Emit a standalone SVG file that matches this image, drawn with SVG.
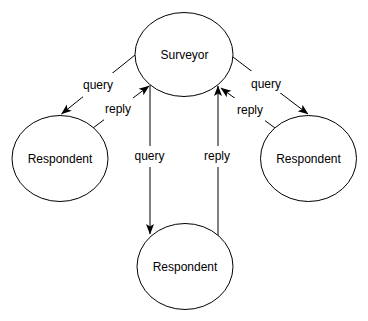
<svg xmlns="http://www.w3.org/2000/svg" width="368" height="321" viewBox="0 0 368 321">
<style>
.node ellipse{fill:#fff;stroke:#000;stroke-width:1}
text{font-family:"Liberation Sans",Arial,Helvetica,sans-serif;font-size:12px;fill:#000;text-anchor:middle}
.edge{fill:none;stroke:#000;stroke-width:1;marker-end:url(#arr)}
.lbl rect{fill:#fff;stroke:none}
</style>
<defs>
<marker id="arr" markerUnits="userSpaceOnUse" markerWidth="12" markerHeight="10" refX="10" refY="4" orient="auto" viewBox="0 0 12 8">
<path d="M0,0 L10.5,4 L0,8 L2.5,4 Z" fill="#000"/>
</marker>
</defs>
<rect width="368" height="321" fill="#fff"/>
<g id="connectors">
<path class="edge" d="M135,55 L61.5,114"/>
<path class="edge" d="M93,128 L149,86"/>
<path class="edge" d="M233,57 L308,114"/>
<path class="edge" d="M275,128 L221,88"/>
<path class="edge" d="M150,85 L150,234"/>
<path class="edge" d="M218,236 L218,86"/>
<g class="lbl"><rect x="83" y="73" width="32" height="24"/><text x="98" y="89">query</text></g>
<g class="lbl"><rect x="104" y="98" width="30" height="23"/><text x="118" y="113">reply</text></g>
<g class="lbl"><rect x="251" y="71" width="30" height="22"/><text x="266" y="87.5">query</text></g>
<g class="lbl"><rect x="234" y="98" width="31" height="23"/><text x="250" y="114">reply</text></g>
<g class="lbl"><rect x="133" y="146" width="33" height="21"/><text x="149.5" y="160">query</text></g>
<g class="lbl"><rect x="202" y="146" width="31" height="21"/><text x="217" y="160">reply</text></g>
</g>
<g id="surveyor" class="node"><ellipse cx="184" cy="54.5" rx="49" ry="42"/><text x="184.5" y="59">Surveyor</text></g>
<g id="respondent-left" class="node"><ellipse cx="60" cy="158.5" rx="48" ry="43"/><text x="60" y="162.5">Respondent</text></g>
<g id="respondent-right" class="node"><ellipse cx="308.5" cy="158.5" rx="48" ry="43"/><text x="308.5" y="162.5">Respondent</text></g>
<g id="respondent-bottom" class="node"><ellipse cx="185" cy="266.5" rx="48" ry="43"/><text x="185" y="270.5">Respondent</text></g>
</svg>
